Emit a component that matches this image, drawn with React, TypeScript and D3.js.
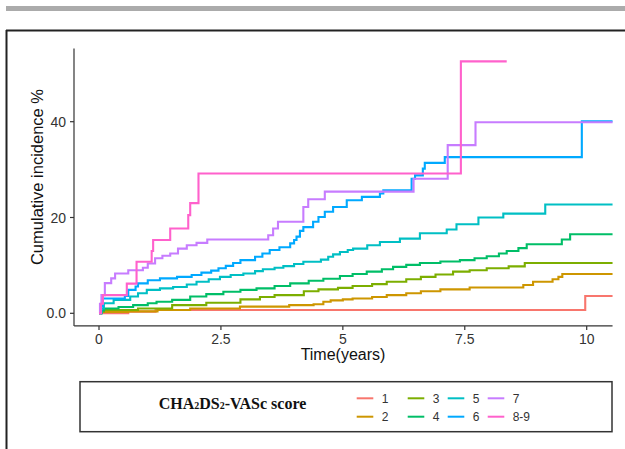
import React from "react";
import * as d3 from "d3";

type Pt = [number, number];

const xTicks = [0, 2.5, 5, 7.5, 10];
const xTickLabels = ["0", "2.5", "5", "7.5", "10"];
const yTicks = [0, 20, 40];
const yTickLabels = ["0.0", "20", "40"];

const groups = ["1", "2", "3", "4", "5", "6", "7", "8-9"];
const colors = ["#F8766D", "#CD9600", "#7CAE00", "#00BE67", "#00BFC4", "#00A9FF", "#C77CFF", "#FF61CC"];

const s1: Pt[] = [[0, 0], [0.6, 0.35], [1.16, 0.7], [9.97, 3.6]];
const s2: Pt[] = [[0, 0], [0.04, 0.3], [0.6, 0.4], [1.2, 0.7], [1.87, 1.0], [2.89, 1.4], [3.9, 1.7], [4.4, 1.9], [4.6, 2.4], [4.75, 2.7], [5.0, 2.9], [5.2, 3.1], [5.6, 3.4], [5.9, 3.8], [6.3, 4.2], [6.6, 4.6], [7.0, 5.0], [7.6, 5.4], [8.7, 5.9], [8.9, 6.6], [9.3, 7.1], [9.42, 7.6], [9.5, 8.2]];
const s3: Pt[] = [[0, 0], [0.05, 0.4], [0.1, 0.7], [0.8, 1.0], [1.5, 1.7], [2.2, 2.2], [2.9, 2.9], [3.3, 3.4], [3.6, 3.8], [4.2, 4.6], [4.5, 5.0], [4.9, 5.3], [5.2, 5.7], [5.6, 6.1], [5.9, 6.6], [6.3, 7.1], [6.6, 7.6], [6.9, 8.1], [7.26, 8.7], [7.6, 9.0], [7.95, 9.4], [8.4, 9.8], [8.73, 10.5]];
const s4: Pt[] = [[0, 0], [0.05, 0.6], [0.1, 1.0], [0.4, 1.3], [0.7, 1.7], [1.0, 2.1], [1.18, 2.4], [1.5, 2.8], [1.87, 3.5], [2.2, 4.0], [2.55, 4.5], [2.9, 4.9], [3.23, 5.2], [3.6, 5.7], [3.92, 6.25], [4.3, 6.8], [4.6, 7.2], [4.94, 7.8], [5.2, 8.2], [5.49, 8.7], [5.8, 9.2], [6.03, 9.7], [6.3, 10.1], [6.58, 10.5], [7.0, 10.8], [7.4, 11.1], [7.7, 11.5], [7.95, 11.9], [8.2, 12.5], [8.36, 13.0], [8.6, 13.6], [8.77, 14.4], [9.49, 15.4], [9.66, 16.5]];
const s5: Pt[] = [[0, 0], [0.04, 1.0], [0.1, 2.1], [0.3, 2.8], [0.64, 3.5], [0.8, 4.2], [0.98, 4.9], [1.25, 5.2], [1.52, 5.5], [1.8, 6.0], [2.0, 6.6], [2.25, 7.1], [2.48, 7.6], [2.7, 8.0], [2.96, 8.3], [3.2, 8.8], [3.36, 9.2], [3.6, 9.5], [3.78, 9.85], [4.0, 10.3], [4.19, 10.75], [4.55, 11.2], [4.7, 11.8], [4.8, 12.3], [4.94, 12.8], [5.1, 13.2], [5.21, 13.5], [5.5, 14.2], [5.76, 14.9], [6.17, 15.6], [6.58, 16.7], [7.13, 17.5], [7.33, 18.6], [7.78, 20.0], [8.29, 20.8], [9.15, 22.7]];
const s6: Pt[] = [[0, 0], [0.05, 1.5], [0.08, 3.1], [0.53, 3.6], [0.6, 4.9], [0.75, 5.6], [0.8, 6.25], [1.0, 6.9], [1.25, 7.3], [1.6, 7.6], [1.9, 8.0], [2.1, 8.5], [2.3, 8.9], [2.45, 9.4], [2.6, 9.9], [2.75, 10.5], [2.9, 11.1], [3.2, 11.8], [3.35, 12.5], [3.5, 13.2], [3.7, 13.8], [3.92, 14.6], [4.0, 15.3], [4.05, 16.0], [4.12, 17.2], [4.19, 18.0], [4.39, 19.1], [4.5, 20.1], [4.63, 21.2], [4.8, 22.2], [5.08, 23.6], [5.39, 24.3], [5.76, 25.0], [5.83, 25.7], [6.41, 28.1], [6.48, 28.8], [6.64, 30.2], [6.68, 31.4], [7.09, 32.6], [9.9, 40.1]];
const s7: Pt[] = [[0, 0], [0.02, 2.0], [0.05, 3.8], [0.12, 6.3], [0.25, 7.3], [0.33, 8.3], [0.6, 9.0], [0.9, 9.5], [1.0, 10.4], [1.15, 11.5], [1.3, 12.0], [1.46, 12.5], [1.62, 13.5], [1.8, 14.2], [2.0, 14.7], [2.22, 15.4], [3.47, 16.3], [3.57, 17.7], [3.67, 19.1], [4.19, 22.2], [4.29, 23.8], [4.63, 25.4], [6.45, 28.1], [7.15, 35.1], [7.72, 39.9]];
const s8: Pt[] = [[0, 0], [0.04, 2.0], [0.08, 3.8], [0.57, 6.2], [0.77, 10.75], [1.08, 13.0], [1.11, 15.3], [1.46, 17.7], [1.83, 20.5], [1.87, 23.0], [2.04, 29.2], [7.42, 52.6]];
const seriesData = [s1, s2, s3, s4, s5, s6, s7, s8];
const seriesEnd = [10.53, 10.53, 10.53, 10.53, 10.53, 10.53, 10.53, 8.36];

const xLim = [-0.51, 10.53];
const yLim = [-2.63, 55.3];

export default function App() {
  const x = d3.scaleLinear().domain([0, 10]).range([99, 586.7]);
  const y = d3.scaleLinear().domain([0, 40]).range([313.3, 121.7]);
  const line = d3
    .line<Pt>()
    .x((d) => x(d[0]))
    .y((d) => y(d[1]))
    .curve(d3.curveStepAfter);

  const x0 = x(xLim[0]);
  const x1 = x(xLim[1]);
  const yb = y(yLim[0]);
  const yt = y(yLim[1]);
  const axisColor = "#333";
  const font = "'Liberation Sans', Arial, sans-serif";

  const legendCols = [356.7, 407.7, 447.7, 487.7];
  const legendRows = [398.3, 416.7];

  return (
    <svg width={625} height={449} style={{ position: "absolute", left: 0, top: 0 }} fontFamily={font}>
      <rect x={0} y={0} width={625} height={449} fill="#fff" />
      <rect x={6} y={6} width={619} height={5} fill="#ababab" />
      <line x1={6} x2={625} y1={30.5} y2={30.5} stroke="#222" strokeWidth={2} />
      <line x1={6.5} x2={6.5} y1={30} y2={449} stroke="#222" strokeWidth={2} />

      {seriesData.map((s, i) => {
        const pts: Pt[] = [...s, [seriesEnd[i], s[s.length - 1][1]]];
        return (
          <path key={groups[i]} d={line(pts) || ""} fill="none" stroke={colors[i]} strokeWidth={2.1} />
        );
      })}

      <line x1={74} x2={74} y1={yt} y2={yb} stroke={axisColor} strokeWidth={1.2} />
      <line x1={x0} x2={x1} y1={yb} y2={yb} stroke={axisColor} strokeWidth={1.2} />
      {yTicks.map((t, i) => (
        <g key={"y" + t}>
          <line x1={70} x2={74} y1={y(t)} y2={y(t)} stroke={axisColor} strokeWidth={1.2} />
          <text x={66} y={y(t) + 5} textAnchor="end" fontSize={14} fill="#333">
            {yTickLabels[i]}
          </text>
        </g>
      ))}
      {xTicks.map((t, i) => (
        <g key={"x" + t}>
          <line x1={x(t)} x2={x(t)} y1={yb} y2={yb + 4} stroke={axisColor} strokeWidth={1.2} />
          <text x={x(t)} y={343.5} textAnchor="middle" fontSize={14} fill="#333">
            {xTickLabels[i]}
          </text>
        </g>
      ))}
      <text x={343} y={359.5} textAnchor="middle" fontSize={16} fill="#111">
        Time(years)
      </text>
      <text transform="translate(42.5,177) rotate(-90)" textAnchor="middle" fontSize={16.5} fill="#111">
        Cumulative incidence %
      </text>

      <rect x={80} y={381.7} width={532} height={50} fill="#fff" stroke="#333" strokeWidth={1.5} />
      <text x={232.5} y={408.5} textAnchor="middle" fontSize={16} fontWeight="bold" fontFamily="'Liberation Serif', 'Times New Roman', serif" fill="#111">
        CHA<tspan fontSize={10}>2</tspan>DS<tspan fontSize={10}>2</tspan>-VASc score
      </text>
      {groups.map((g, i) => {
        const c = Math.floor(i / 2);
        const r = i % 2;
        const lx = legendCols[c];
        const ly = legendRows[r];
        return (
          <g key={"lg" + g}>
            <line x1={lx} x2={lx + 16.6} y1={ly} y2={ly} stroke={colors[i]} strokeWidth={2} />
            <text x={lx + 25} y={ly + 4.3} fontSize={12} fill="#333">
              {g}
            </text>
          </g>
        );
      })}
    </svg>
  );
}
